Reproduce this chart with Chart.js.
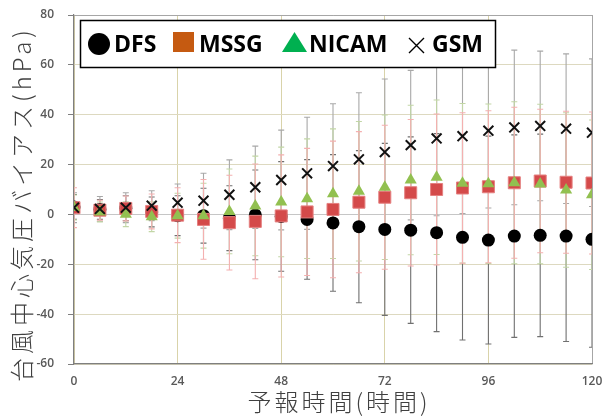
<!DOCTYPE html>
<html>
<head>
<meta charset="utf-8">
<script src="https://cdn.jsdelivr.net/npm/chart.js@4.4.1/dist/chart.umd.min.js"></script>
<style>
  html, body { margin: 0; padding: 0; background: #fff; }
  #wrap { width: 611px; height: 416px; }
</style>
</head>
<body>
<div id="wrap"><canvas id="chart" width="611" height="416"></canvas></div>
<script>
// forecast hours
const hours = [0, 6, 12, 18, 24, 30, 36, 42, 48, 54, 60, 66, 72, 78, 84, 90, 96, 102, 108, 114, 120];
const xTicks = [0, 24, 48, 72, 96, 120];
const yTicks = [-60, -40, -20, 0, 20, 40, 60, 80];
const xTitle = '予報時間(時間)';
const yTitle = '台風中心気圧バイアス(hPa)';

// mean bias (hPa)
const dfs   = [3, 2, 2.5, 1, -0.5, -0.5, -1.5, -0.2, -0.8, -2, -3.4, -4.9, -6, -6.3, -7.3, -9.2, -10.3, -8.7, -8.4, -8.7, -10];
const mssg  = [2.7, 1.7, 2.4, 1.2, -0.3, -2, -3.3, -2.8, -0.6, 1, 2, 4.9, 6.9, 8.7, 10, 10.6, 11.1, 12.7, 13.4, 12.9, 12.6];
const nicam = [2.8, 1, 0.1, -0.9, -0.5, -0.5, 1.2, 3.4, 5, 6.3, 8.3, 9.3, 10.9, 13.8, 14.9, 12.5, 12.3, 12.7, 12.2, 9.8, 7.9];
const gsm   = [2.7, 2.2, 2.7, 3.5, 4.7, 5.5, 7.9, 10.9, 13.8, 16.5, 19.4, 22.1, 25, 27.8, 30.5, 31.4, 33.6, 34.9, 35.5, 34.4, 32.8];

// error bar half widths (hPa)
const dfsErr   = [5, 4, 5, 6, 8, 11, 13, 18, 22, 24, 27.4, 30.5, 34.5, 37.4, 39.7, 41.2, 41.7, 40.6, 40.6, 42.3, 43.3];
const mssgErr  = [8, 4, 5, 7, 11, 16, 19, 23, 24.5, 25.5, 27.4, 28.3, 28.9, 29.4, 30.3, 30.2, 30.5, 30.3, 28.8, 28.5, 28.5];
const nicamErr = [5, 4, 5, 6, 9, 13, 17, 20, 22, 24, 26, 28, 29, 30, 31, 32, 32, 32.5, 32, 31, 30];
const gsmErr   = [6, 5, 6, 6, 7.5, 11, 14, 16.5, 20, 22.5, 25, 26.7, 29.3, 30, 31, 31, 31, 31, 30, 30, 29.6];

const toPoints = vals => vals.map((v, i) => ({ x: hours[i], y: v }));

Chart.defaults.font.family = "'Open Sans', sans-serif";

// vertical error bars with caps
const errorBars = {
  id: 'errorBars',
  beforeDatasetsDraw(chart) {
    const { ctx, chartArea, scales: { x, y } } = chart;
    const sets = [
      { vals: dfs, err: dfsErr, color: '#707070' },
      { vals: gsm, err: gsmErr, color: '#a8a8a8' },
      { vals: nicam, err: nicamErr, color: '#c2d6a6' },
      { vals: mssg, err: mssgErr, color: '#f4b0b0' }
    ];
    ctx.save();
    ctx.beginPath();
    ctx.rect(chartArea.left, chartArea.top, chartArea.right - chartArea.left, chartArea.bottom - chartArea.top);
    ctx.clip();
    ctx.lineWidth = 1.1;
    sets.forEach(s => {
      ctx.strokeStyle = s.color;
      s.vals.forEach((v, i) => {
        const px = x.getPixelForValue(hours[i]);
        const top = y.getPixelForValue(v + s.err[i]);
        const bot = y.getPixelForValue(v - s.err[i]);
        ctx.beginPath();
        ctx.moveTo(px, top); ctx.lineTo(px, bot);
        ctx.moveTo(px - 3, top); ctx.lineTo(px + 3, top);
        ctx.moveTo(px - 3, bot); ctx.lineTo(px + 3, bot);
        ctx.stroke();
      });
    });
    ctx.restore();
  }
};

// axis titles, drawn with letter spacing
const axisTitles = {
  id: 'axisTitles',
  afterDraw(chart) {
    const { ctx, chartArea } = chart;
    ctx.save();
    ctx.font = "300 24px 'Noto Sans CJK JP', sans-serif";
    ctx.fillStyle = '#404040';
    ctx.textAlign = 'center';
    ctx.textBaseline = 'middle';
    ctx.letterSpacing = '3px';
    ctx.fillText(xTitle, (chartArea.left + chartArea.right) / 2 + 6, 402);
    ctx.letterSpacing = '4px';
    ctx.translate(22, 204);
    ctx.rotate(-Math.PI / 2);
    ctx.fillText(yTitle, 0, 0);
    ctx.restore();
  }
};

// boxed legend inside the plot
const boxLegend = {
  id: 'boxLegend',
  afterDraw(chart) {
    const ctx = chart.ctx;
    ctx.save();
    ctx.fillStyle = '#fff';
    ctx.fillRect(80, 20, 416, 48);
    ctx.strokeStyle = '#000';
    ctx.lineWidth = 1.5;
    ctx.strokeRect(80.5, 20.5, 415, 47);

    ctx.font = "bold 23px 'Open Sans'";
    ctx.textBaseline = 'middle';
    ctx.fillStyle = '#000';

    ctx.beginPath();
    ctx.arc(99, 44, 11, 0, Math.PI * 2);
    ctx.fill();
    ctx.fillText('DFS', 114, 45);

    ctx.fillStyle = '#c55a11';
    ctx.fillRect(173, 32, 21, 20);
    ctx.fillStyle = '#000';
    ctx.fillText('MSSG', 199, 45);

    ctx.fillStyle = '#00b050';
    ctx.beginPath();
    ctx.moveTo(282, 52); ctx.lineTo(307, 52); ctx.lineTo(294.5, 32);
    ctx.closePath();
    ctx.fill();
    ctx.fillStyle = '#000';
    ctx.fillText('NICAM', 309, 45);

    ctx.strokeStyle = '#000';
    ctx.lineWidth = 1.4;
    ctx.beginPath();
    ctx.moveTo(409, 38); ctx.lineTo(424, 53);
    ctx.moveTo(424, 38); ctx.lineTo(409, 53);
    ctx.stroke();
    ctx.fillText('GSM', 432, 45);
    ctx.restore();
  }
};

const ctx = document.getElementById('chart').getContext('2d');
new Chart(ctx, {
  type: 'scatter',
  data: {
    datasets: [
      {
        label: 'DFS', data: toPoints(dfs), order: 4,
        pointStyle: 'circle', pointRadius: 6.5, pointHoverRadius: 6.5,
        backgroundColor: '#000', borderColor: '#000', borderWidth: 0
      },
      {
        label: 'MSSG', data: toPoints(mssg), order: 3,
        pointStyle: 'rect', pointRadius: 8.5, pointHoverRadius: 8.5,
        backgroundColor: '#d44a4a', borderColor: '#e58080', borderWidth: 1
      },
      {
        label: 'NICAM', data: toPoints(nicam), order: 2,
        pointStyle: 'triangle', pointRadius: 7, pointHoverRadius: 7,
        backgroundColor: '#92c050', borderColor: '#92c050', borderWidth: 0
      },
      {
        label: 'GSM', data: toPoints(gsm), order: 1,
        pointStyle: 'crossRot', pointRadius: 7, pointHoverRadius: 7,
        backgroundColor: '#000', borderColor: '#111', borderWidth: 2
      }
    ]
  },
  options: {
    responsive: false,
    animation: false,
    devicePixelRatio: 1,
    layout: { padding: { top: 15, right: 19, left: 0, bottom: 0 } },
    plugins: {
      legend: { display: false },
      tooltip: { enabled: false }
    },
    scales: {
      x: {
        type: 'linear', min: 0, max: 120,
        afterBuildTicks: axis => { axis.ticks = xTicks.map(v => ({ value: v })); },
        afterFit: axis => { axis.height = 52; axis.paddingLeft = 0; axis.paddingRight = 0; },
        ticks: { color: '#595959', font: { size: 12, weight: '600' }, padding: 10 },
        grid: {
          color: c => c.tick.value === 120 ? '#a6a6a6' : '#d9d3aa',
          lineWidth: 1, drawTicks: false
        },
        border: { color: '#7f7f7f', width: 1.2 }
      },
      y: {
        min: -60, max: 80,
        afterBuildTicks: axis => { axis.ticks = yTicks.map(v => ({ value: v })); },
        afterFit: axis => { axis.width = 74; axis.paddingTop = 0; axis.paddingBottom = 0; },
        ticks: { color: '#595959', font: { size: 12, weight: '600' }, padding: 14 },
        grid: {
          color: c => c.tick.value === 80 ? '#a6a6a6' : (c.tick.value === 0 ? '#c6c6c6' : '#ddd9c0'),
          lineWidth: 1, tickLength: 6, tickColor: '#7f7f7f'
        },
        border: { color: '#7f7f7f', width: 1.2 }
      }
    }
  },
  plugins: [errorBars, axisTitles, boxLegend]
});
</script>
</body>
</html>
